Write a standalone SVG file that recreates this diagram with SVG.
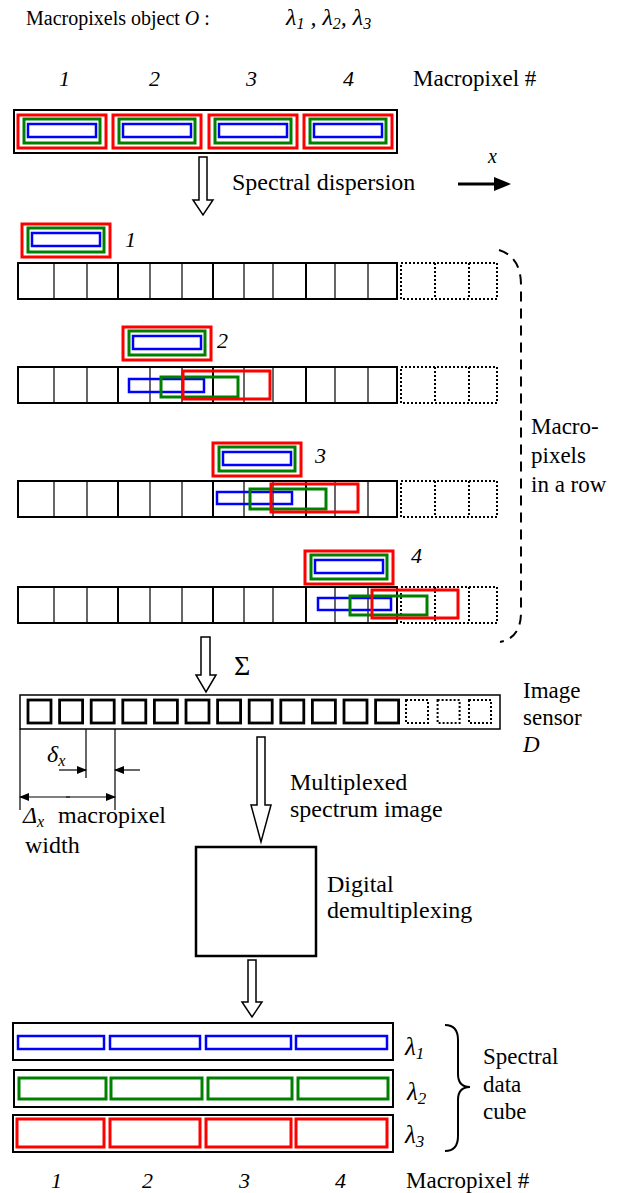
<svg xmlns="http://www.w3.org/2000/svg" width="619" height="1193" viewBox="0 0 619 1193" font-family="Liberation Serif, Times New Roman, serif">
<style>
text{font-family:"Liberation Serif","Times New Roman",serif;fill:#000}
.it{font-style:italic}
.r{fill:none;stroke:#ff0000;stroke-width:3}
.g{fill:none;stroke:#008000;stroke-width:3}
.b{fill:none;stroke:#0000ff;stroke-width:2.5}
.bk{fill:none;stroke:#000;stroke-width:2}
.cell{stroke:#000;stroke-width:1.2}
.cellb{stroke:#000;stroke-width:2}
.dot{fill:none;stroke:#000;stroke-width:2;stroke-dasharray:2 2}
.harrow{fill:#fff;stroke:#000;stroke-width:1.5}
.thin{stroke:#000;stroke-width:1.2;fill:none}
</style>
<defs>
<g id="mp">
<rect class="r" x="0" y="0" width="88" height="33"/>
<rect class="g" x="6" y="4" width="76" height="24"/>
<rect class="b" x="10" y="9" width="68" height="13"/>
</g>
<g id="row">
<rect class="bk" x="18" y="0" width="379" height="36"/>
<line class="cell" x1="54" y1="0" x2="54" y2="36"/>
<line class="cell" x1="87" y1="0" x2="87" y2="36"/>
<line class="cellb" x1="118" y1="0" x2="118" y2="36"/>
<line class="cell" x1="150" y1="0" x2="150" y2="36"/>
<line class="cell" x1="182" y1="0" x2="182" y2="36"/>
<line class="cellb" x1="213" y1="0" x2="213" y2="36"/>
<line class="cell" x1="244" y1="0" x2="244" y2="36"/>
<line class="cell" x1="273" y1="0" x2="273" y2="36"/>
<line class="cellb" x1="306" y1="0" x2="306" y2="36"/>
<line class="cell" x1="335" y1="0" x2="335" y2="36"/>
<line class="cell" x1="368" y1="0" x2="368" y2="36"/>
<rect class="dot" x="401" y="0" width="96" height="36"/>
<line class="dot" x1="435" y1="0" x2="435" y2="36"/>
<line class="dot" x1="469" y1="0" x2="469" y2="36"/>
</g>
<marker id="ah" markerWidth="10" markerHeight="8" refX="9" refY="4" orient="auto" markerUnits="userSpaceOnUse">
<path d="M0,0 L10,4 L0,8 Z" fill="#000"/>
</marker>
</defs>

<g id="title">
<text x="26" y="25" font-size="20">Macropixels object <tspan class="it">O</tspan> :</text>
<text x="286" y="25" font-size="24" class="it">λ<tspan font-size="16" dy="4">1</tspan><tspan dy="-4" xml:space="preserve"> , λ</tspan><tspan font-size="16" dy="4">2</tspan><tspan dy="-4" xml:space="preserve">, λ</tspan><tspan font-size="16" dy="4">3</tspan></text>
</g>

<g id="top-numbers" font-size="22">
<text class="it" x="59" y="86">1</text>
<text class="it" x="149" y="86">2</text>
<text class="it" x="246" y="86">3</text>
<text class="it" x="343" y="86">4</text>
<text x="413" y="86" font-size="23">Macropixel #</text>
</g>

<g id="object-bar">
<rect class="bk" x="14" y="110" width="383" height="43"/>
<use href="#mp" x="18" y="115"/>
<use href="#mp" x="113" y="115"/>
<use href="#mp" x="209" y="115"/>
<use href="#mp" x="304" y="115"/>
</g>

<g id="connectors">
<polygon class="harrow" points="199,157 207,157 207,200 213,200 203,215 193,200 199,200"/>
<polygon class="harrow" points="201,637 210,637 210,675 216,675 206,692 196,675 201,675"/>
<polygon class="harrow" points="257,737 265,737 265,805 271,805 261,842 251,805 257,805"/>
<polygon class="harrow" points="248,960 256,960 256,1002 262,1002 252,1017 242,1002 248,1002"/>
<line x1="458" y1="184" x2="496" y2="184" stroke="#000" stroke-width="3"/>
<polygon points="494,177 511,184 494,191" fill="#000"/>
<path d="M499,250 Q521,257 521,285 L521,612 Q521,638 500,642" fill="none" stroke="#000" stroke-width="2" stroke-dasharray="10 7"/>
</g>

<g id="dispersion-label">
<text x="232" y="190" font-size="24">Spectral dispersion</text>
<text class="it" x="488" y="163" font-size="20">x</text>
</g>

<g id="row1">
<use href="#mp" x="22" y="224"/>
<text class="it" x="125" y="247" font-size="22">1</text>
<use href="#row" x="0" y="263"/>
</g>

<g id="row2">
<use href="#mp" x="123" y="327"/>
<text class="it" x="217" y="348" font-size="22">2</text>
<use href="#row" x="0" y="367"/>
<rect class="b" x="129" y="379" width="75" height="13"/>
<rect class="g" x="161" y="377" width="77" height="20"/>
<rect class="r" x="183" y="371" width="87" height="28"/>
</g>

<g id="row3">
<use href="#mp" x="213" y="443"/>
<text class="it" x="315" y="463" font-size="22">3</text>
<use href="#row" x="0" y="481"/>
<rect class="b" x="217" y="492" width="75" height="12"/>
<rect class="g" x="250" y="489" width="76" height="20"/>
<rect class="r" x="271" y="484" width="87" height="28"/>
</g>

<g id="row4">
<use href="#mp" x="305" y="551"/>
<text class="it" x="411" y="563" font-size="22">4</text>
<use href="#row" x="0" y="587"/>
<rect class="b" x="318" y="598" width="73" height="12"/>
<rect class="g" x="350" y="596" width="77" height="19"/>
<rect class="r" x="372" y="590" width="86" height="28"/>
</g>

<g id="row-label" font-size="23">
<text x="531" y="434">Macro-</text>
<text x="531" y="463">pixels</text>
<text x="531" y="492">in a row</text>
</g>

<g id="sum">
<text x="234" y="675" font-size="28">Σ</text>
</g>

<g id="image-sensor">
<rect x="20" y="695" width="480" height="34" fill="#fff" stroke="#000" stroke-width="1.5"/>
<g fill="none" stroke="#000" stroke-width="2.8">
<rect x="28" y="700" width="23" height="23"/>
<rect x="59.6" y="700" width="23" height="23"/>
<rect x="91.2" y="700" width="23" height="23"/>
<rect x="122.8" y="700" width="23" height="23"/>
<rect x="154.4" y="700" width="23" height="23"/>
<rect x="186" y="700" width="23" height="23"/>
<rect x="217.6" y="700" width="23" height="23"/>
<rect x="249.2" y="700" width="23" height="23"/>
<rect x="280.8" y="700" width="23" height="23"/>
<rect x="312.4" y="700" width="23" height="23"/>
<rect x="344" y="700" width="23" height="23"/>
<rect x="375.6" y="700" width="23" height="23"/>
</g>
<rect class="dot" x="406" y="700" width="22" height="23"/>
<rect class="dot" x="437.6" y="700" width="22" height="23"/>
<rect class="dot" x="469" y="700" width="22" height="23"/>
<text x="523" y="698" font-size="23">Image</text>
<text x="523" y="725" font-size="23">sensor</text>
<text class="it" x="523" y="752" font-size="23">D</text>
</g>

<g id="dimensions">
<line class="thin" x1="20" y1="729" x2="20" y2="810"/>
<line class="thin" x1="86" y1="729" x2="86" y2="778"/>
<line class="thin" x1="115" y1="729" x2="115" y2="810"/>
<line class="thin" x1="59" y1="770" x2="86" y2="770" marker-end="url(#ah)"/>
<line class="thin" x1="140" y1="770" x2="115" y2="770" marker-end="url(#ah)"/>
<line class="thin" x1="66" y1="797" x2="115" y2="797" marker-end="url(#ah)"/>
<line class="thin" x1="70" y1="797" x2="20" y2="797" marker-end="url(#ah)"/>
<text class="it" x="47" y="762" font-size="24">δ<tspan font-size="16" dy="4">x</tspan></text>
<text x="23" y="823" font-size="24"><tspan class="it">Δ</tspan><tspan class="it" font-size="16" dy="4">x</tspan><tspan dy="-4" x="58">macropixel</tspan></text>
<text x="25" y="853" font-size="24">width</text>
</g>

<g id="multiplexed-label" font-size="24">
<text x="290" y="790">Multiplexed</text>
<text x="290" y="817">spectrum image</text>
</g>

<g id="demux">
<rect x="196" y="847" width="120" height="109" fill="#fff" stroke="#000" stroke-width="2.5"/>
<text x="327" y="892" font-size="24">Digital</text>
<text x="327" y="918" font-size="24">demultiplexing</text>
</g>

<g id="cube-l1">
<rect class="bk" x="13" y="1023" width="380" height="37"/>
<rect class="b" x="18" y="1036" width="86" height="13"/>
<rect class="b" x="110" y="1036" width="90" height="13"/>
<rect class="b" x="206" y="1036" width="85" height="13"/>
<rect class="b" x="296" y="1036" width="91" height="13"/>
<text class="it" x="405" y="1055" font-size="25">λ<tspan font-size="17" dy="4">1</tspan></text>
</g>
<g id="cube-l2">
<rect class="bk" x="14" y="1070" width="379" height="37"/>
<rect class="g" x="19" y="1078" width="87" height="21"/>
<rect class="g" x="111" y="1078" width="91" height="21"/>
<rect class="g" x="208" y="1078" width="84" height="21"/>
<rect class="g" x="298" y="1078" width="90" height="21"/>
<text class="it" x="407" y="1100" font-size="25">λ<tspan font-size="17" dy="4">2</tspan></text>
</g>
<g id="cube-l3">
<rect class="bk" x="13" y="1115" width="380" height="37"/>
<rect class="r" x="17" y="1119" width="87" height="28"/>
<rect class="r" x="110" y="1119" width="90" height="28"/>
<rect class="r" x="206" y="1119" width="85" height="28"/>
<rect class="r" x="296" y="1119" width="91" height="28"/>
<text class="it" x="405" y="1143" font-size="25">λ<tspan font-size="17" dy="4">3</tspan></text>
</g>

<g id="cube-label">
<path d="M445,1025 Q458,1025 458,1040 L458,1074 Q458,1087 470,1087 Q458,1087 458,1100 L458,1136 Q458,1151 445,1151" fill="none" stroke="#000" stroke-width="2"/>
<text x="483" y="1064" font-size="23">Spectral</text>
<text x="483" y="1092" font-size="23">data</text>
<text x="483" y="1119" font-size="23">cube</text>
</g>

<g id="bottom-numbers" font-size="22">
<text class="it" x="51" y="1188">1</text>
<text class="it" x="142" y="1188">2</text>
<text class="it" x="239" y="1188">3</text>
<text class="it" x="335" y="1188">4</text>
<text x="406" y="1188" font-size="23">Macropixel #</text>
</g>
</svg>
